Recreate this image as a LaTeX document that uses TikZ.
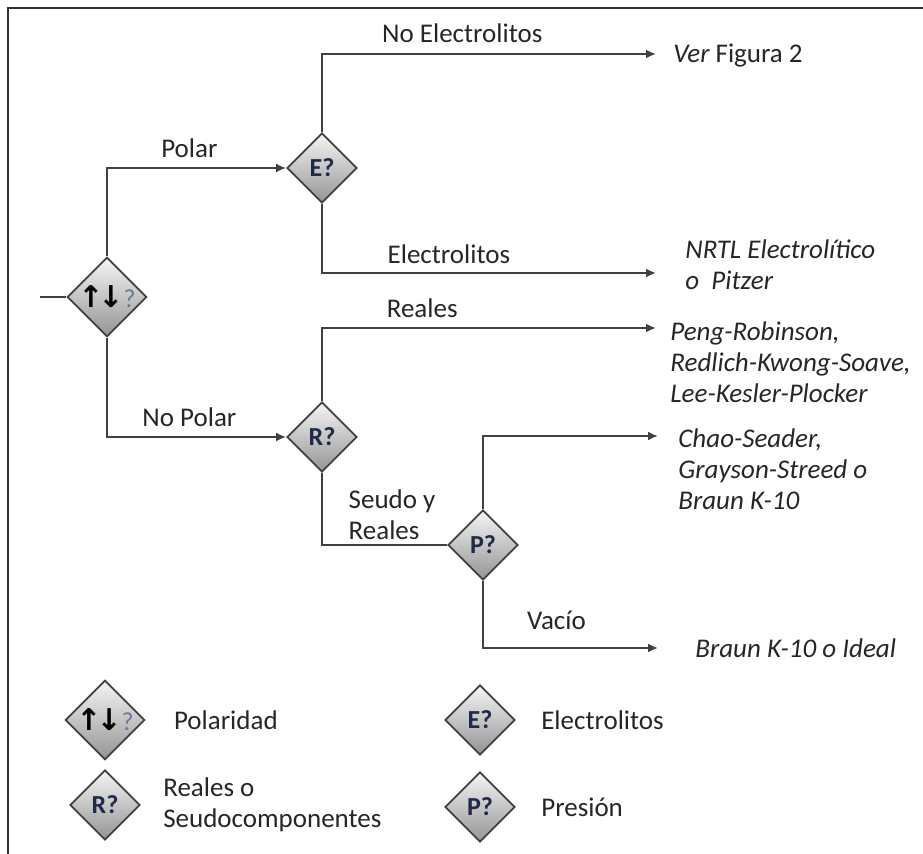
\documentclass[tikz,border=0pt]{standalone}
\usepackage{fontspec}
\setmainfont{Carlito}
\newfontfamily\symfont{DejaVu Sans}
\usepackage{tikz}
\usetikzlibrary{arrows.meta,positioning,shapes.geometric}
\definecolor{linegray}{HTML}{404040}
\definecolor{qnavy}{HTML}{1E2A48}
\definecolor{qblue}{HTML}{6A7A9A}
\definecolor{txtgray}{HTML}{262626}

\begin{document}
\begin{tikzpicture}[
  x=0.5pt, y=-0.5pt,
  decision/.style={diamond, draw=linegray, line width=0.9pt, minimum size=35pt, inner sep=0pt, top color=black!4, bottom color=black!42, font=\fontsize{13}{14}\selectfont\bfseries, text=qnavy},
  lbl/.style={font=\fontsize{13.5}{15.5}\selectfont, text=txtgray, inner sep=0pt, align=left},
  res/.style={font=\fontsize{13.5}{15.5}\selectfont\itshape, text=txtgray, inner sep=0pt, anchor=west, align=left},
  link/.style={draw=linegray, line width=1.1pt},
  arr/.style={link, -{Latex[length=5pt, width=4.5pt]}}
]
\useasboundingbox (0,0) rectangle (923,854);
\draw[line width=1pt, black!80] (8,854) -- (8,8) -- (923,8);

\node[decision] (pol) at (107,297) {{\symfont\fontsize{15}{15}\selectfont\color{black}↑\kern-2.5pt↓}{\mdseries\color{qblue}?}};
\node[decision] (elec) at (322,168) {E?};
\node[decision] (real) at (322,437) {R?};
\node[decision] (pres) at (483,545) {P?};

\coordinate (in) at (40,297);
\coordinate (tipVer) at (656,54);
\coordinate (tipNrtl) at (656,273);
\coordinate (tipPeng) at (656,328);
\coordinate (tipChao) at (658,436);
\coordinate (tipBraun) at (658,648);

\node[res] (ver) at (673,56) {Ver {\upshape Figura 2}};
\node[res] (nrtl) at (685,265) {NRTL Electrolítico\\o\ \ Pitzer};
\node[res] (peng) at (670,362) {Peng-Robinson,\\Redlich-Kwong-Soave,\\Lee-Kesler-Plocker};
\node[res] (chao) at (678,469) {Chao-Seader,\\Grayson-Streed o\\Braun K-10};
\node[res] (braun) at (695,648) {Braun K-10 o Ideal};

\draw[link] (in) -- (pol.west);
\draw[arr] (pol.north) |- node[lbl, pos=0.73, above=4.5pt]{Polar} (elec.west);
\draw[arr] (elec.north) |- node[lbl, pos=0.71, above=5pt]{No Electrolitos} (tipVer);
\draw[arr] (elec.south) |- node[lbl, pos=0.69, above=4pt]{Electrolitos} (tipNrtl);
\draw[arr] (pol.south) |- node[lbl, pos=0.73, above=4.5pt]{No Polar} (real.west);
\draw[arr] (real.north) |- node[lbl, pos=0.65, above=4.5pt]{Reales} (tipPeng);
\draw[link] (real.south) |- node[lbl, pos=0.78, above=2pt]{Seudo y\\Reales} (pres.west);
\draw[arr] (pres.north) |- (tipChao);
\draw[arr] (pres.south) |- node[lbl, pos=0.71, above=8.5pt]{Vacío} (tipBraun);

\node[decision] (legPol) at (105,720) {{\symfont\fontsize{15}{15}\selectfont\color{black}↑\kern-2.5pt↓}{\mdseries\color{qblue}?}};
\node[lbl, right=14pt of legPol] (txtPol) {Polaridad};
\node[decision] (legElec) at (480,720) {E?};
\node[lbl, right=12.5pt of legElec] (txtElec) {Electrolitos};
\node[decision] (legReal) at (105,805) {R?};
\node[lbl, right=11pt of legReal] (txtReal) {Reales o\\Seudocomponentes};
\node[decision] (legPres) at (480,807) {P?};
\node[lbl, right=12.5pt of legPres] (txtPres) {Presión};
\end{tikzpicture}
\end{document}
